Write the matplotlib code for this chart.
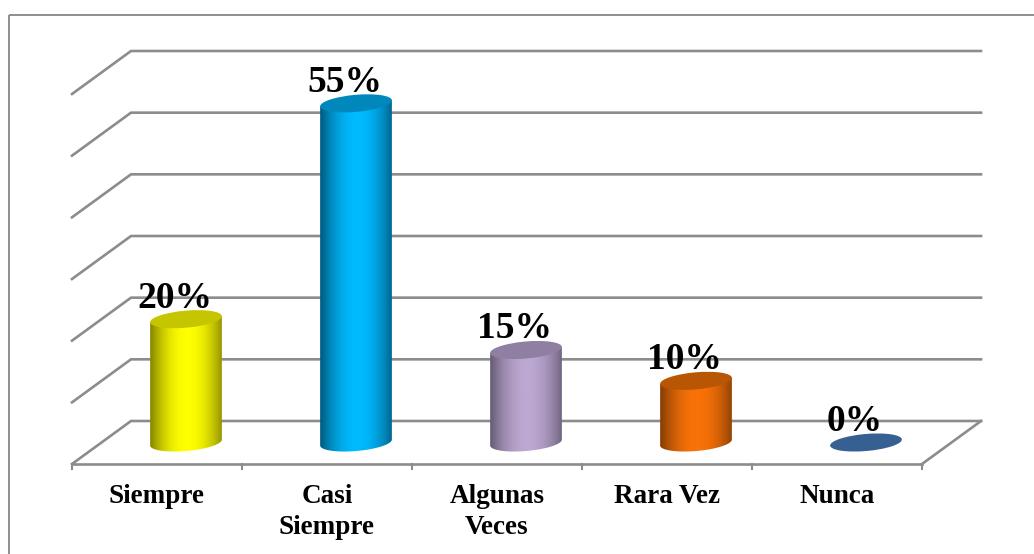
#!/usr/bin/env python3
# -*- coding: utf-8 -*-
import numpy as np
import matplotlib
matplotlib.use('Agg')
import matplotlib.pyplot as plt
from matplotlib.patches import Ellipse, PathPatch, Rectangle
from matplotlib.path import Path
from matplotlib.colors import LinearSegmentedColormap

categories = ['Siempre', 'Casi\nSiempre', 'Algunas\nVeces', 'Rara Vez', 'Nunca']
values = [20, 55, 15, 10, 0]
labels = ['20%', '55%', '15%', '10%', '0%']
side_colors = ['#FFFF00', '#00BAFF', '#BCA8D2', '#F97208', '#376092']
dark_colors = ['#8C8C00', '#005F85', '#6A5F78', '#8A4004', '#376092']
top_colors = ['#C6C600', '#0088BC', '#8F7FA3', '#B85604', '#376092']
grid_values = [0, 10, 20, 30, 40, 50, 60]

GRID = '#8C8C8C'

# chart geometry, in pixels of the picture
x_front, x_end, y_front = 72, 922, 464
dx, y_back = 59, 421
px_per_unit = (421 - 51) / 60.0
bar_w, ell_h, angle = 72, 17, 5
y_base = 442.5
slot = (x_end - x_front) / len(values)


def val_y(v, base):
    return base - v * px_per_unit


fig = plt.figure(figsize=(10.34, 5.54), dpi=100)
ax = fig.add_axes([0, 0, 1, 1])
ax.set_xlim(0, 1034)
ax.set_ylim(554, 0)
ax.axis('off')

# outer frame
ax.add_patch(Rectangle((9, 14.5), 1040, 600, fill=False, ec='#8E8E8E', lw=1.4))

# back grid + left wall lines
for g in grid_values:
    yb = val_y(g, y_back)
    yf = val_y(g, y_front)
    ax.plot([x_front, x_front + dx, x_end + dx], [yf, yb, yb], color=GRID, lw=1.9,
            solid_joinstyle='miter', zorder=1)

# floor
ax.plot([x_front, x_end], [y_front, y_front], color=GRID, lw=1.9, zorder=1)
ax.plot([x_end, x_end + dx], [y_front, y_back], color=GRID, lw=1.9, zorder=1)
for i in range(len(values) + 1):
    xt = x_front + i * slot
    ax.plot([xt, xt], [y_front, y_front + 5], color=GRID, lw=1.5, zorder=1)

# cylinders
t = np.linspace(0, 1, 256)
shade = np.clip(np.abs(2 * t - 1.04) ** 2.0, 0, 1)[None, :]
a = np.radians(angle)
for i, v in enumerate(values):
    xc = x_front + (i + 0.5) * slot + 29
    y_top = val_y(v, y_base)
    if v > 0:
        # outline of the body: rotated ellipse ends at top and bottom
        th = np.linspace(np.pi, 0, 80)
        ex = bar_w / 2 * np.cos(th)
        ey = ell_h / 2 * np.sin(th)
        low_x = xc + ex * np.cos(a) + ey * np.sin(a)
        low_y = y_base - ex * np.sin(a) + ey * np.cos(a)
        xs = np.r_[low_x[0], low_x, low_x[-1]]
        ys = np.r_[y_top + bar_w / 2 * np.sin(a), low_y, y_top - bar_w / 2 * np.sin(a)]
        body = PathPatch(Path(np.column_stack([xs, ys])), fc='none', ec='none')
        ax.add_patch(body)
        cmap = LinearSegmentedColormap.from_list('c', [side_colors[i], dark_colors[i]])
        im = ax.imshow(shade, cmap=cmap, vmin=0, vmax=1, aspect='auto', zorder=3,
                       extent=(xc - bar_w / 2, xc + bar_w / 2, y_base + 15, y_top - 15))
        im.set_clip_path(body)
    ax.add_patch(Ellipse((xc, y_top), bar_w, ell_h, angle=-angle, fc=top_colors[i],
                         ec='none', zorder=4))
    ax.text(xc - 11.5, y_top - 11.5, labels[i], ha='center', va='baseline', fontsize=27,
            fontfamily='Liberation Serif', fontweight='bold', color='black', zorder=5)

# category labels
for i, c in enumerate(categories):
    ax.text(x_front + (i + 0.5) * slot, 484, c, ha='center', va='top', fontsize=19.5,
            fontfamily='Liberation Serif', fontweight='bold', color='black',
            linespacing=1.3)

ax.set_xlim(0, 1034)
ax.set_ylim(554, 0)
fig.savefig('out.png', dpi=100, facecolor='white')
